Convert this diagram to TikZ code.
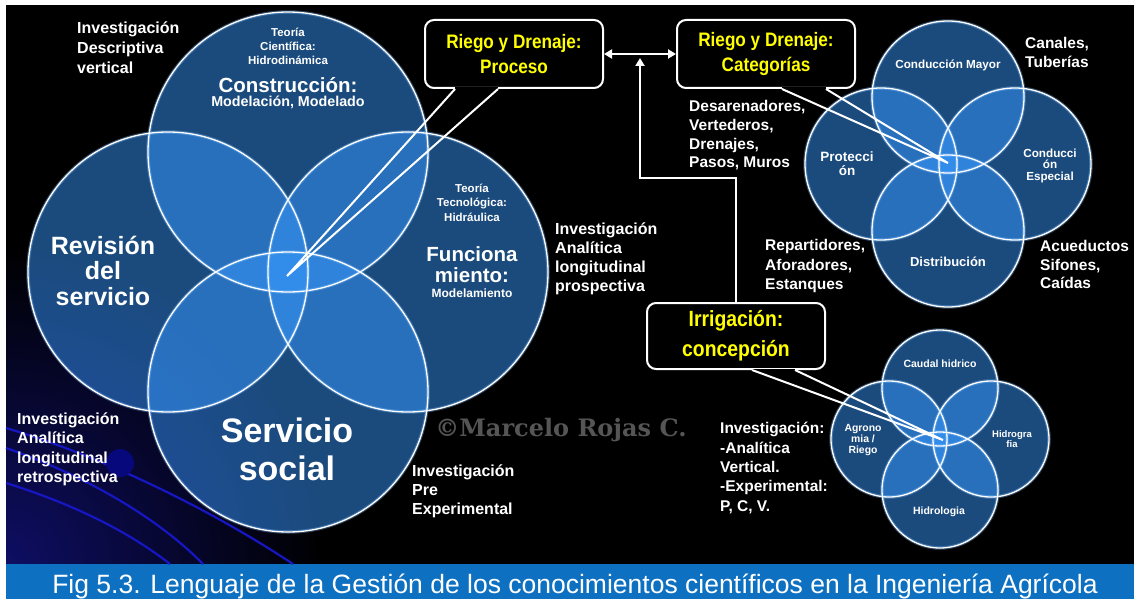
\documentclass[tikz,border=0pt]{standalone}
\usepackage{fontspec}
\setmainfont{Liberation Sans}
\newfontfamily\wmfont{DejaVu Serif}
\usetikzlibrary{arrows.meta}
\newcommand{\myfs}[2]{\fontsize{#1}{#2}\selectfont}
\newcommand{\nar}[1]{\scalebox{0.88}[1]{#1}}
\definecolor{vfill}{RGB}{54,150,250}
\definecolor{vglow}{RGB}{130,190,255}
\definecolor{capblue}{RGB}{14,112,192}
\definecolor{navy}{RGB}{14,14,100}
\definecolor{curveblue}{RGB}{22,22,195}
\definecolor{ballblue}{RGB}{8,8,125}
\definecolor{wmgray}{RGB}{85,85,85}
\definecolor{ylw}{RGB}{255,255,0}
\begin{document}
\begin{tikzpicture}[x=1pt,y=-1pt,
  vc/.style={fill=vfill, fill opacity=0.5},
  vglowline/.style={draw=vglow, draw opacity=0.35, line width=3.5pt},
  vline/.style={draw=white, line width=1.3pt},
  side/.style={text=white, inner sep=0pt, align=left, anchor=north west},
  inlbl/.style={text=white, inner sep=0pt, align=center},
  callout/.style={draw=white, line width=2pt, fill=black, rounded corners=9pt,
    text=ylw, font=\bfseries\myfs{19.5}{25}, align=center,
    minimum width=178pt, minimum height=68pt, inner sep=0pt},
  ptr/.style={draw=white, line width=2pt},
  conn/.style={draw=white, line width=2pt},
  deco/.style={draw=curveblue, line width=2.2pt}
]
\useasboundingbox (0,0) rectangle (1134,599);
% background
\fill[white] (0,0) rectangle (1134,599);
\fill[black] (6,5) rectangle (1134,564);
\begin{scope}
  \clip (6,5) rectangle (1134,564);
  \shade[inner color=navy, outer color=black] (6,564) circle (320);
\end{scope}
\fill[capblue] (6,564) rectangle (1134,599);
% decorative curves
\draw[deco] (6,428) .. controls (107,458) and (213,511) .. (293,564);
\draw[deco] (6,448) .. controls (70,470) and (150,510) .. (203,564);
\draw[deco] (6,483) .. controls (60,500) and (120,525) .. (170,564);
\fill[ballblue] (120,463) circle (14);

% circles
\foreach \cx/\cy/\r in {288/152/140, 168/272/140, 408/272/140, 288/392/140,
  948/97/76, 881/164/76, 1015/164/76, 948/231/76,
  940/388/58, 889/439/58, 991/439/58, 940/490/58}{
  \fill[vc] (\cx,\cy) circle (\r);
}
\foreach \cx/\cy/\r in {288/152/140, 168/272/140, 408/272/140, 288/392/140,
  948/97/76, 881/164/76, 1015/164/76, 948/231/76,
  940/388/58, 889/439/58, 991/439/58, 940/490/58}{
  \draw[vglowline] (\cx,\cy) circle (\r);
  \draw[vline] (\cx,\cy) circle (\r);
}

% watermark
\node[text=wmgray, inner sep=0pt, font=\wmfont\bfseries\myfs{24}{28}] (wm) at (561,430) {©Marcelo Rojas C.};

% left cluster labels
\node[inlbl, anchor=north, font=\bfseries\myfs{11.5}{14}] (tc) at (288,27.7) {Teoría\\Científica:\\Hidrodinámica};
\node[inlbl, font=\bfseries\myfs{20.5}{24}] (con) at (288,85) {Construcción:};
\node[inlbl, font=\bfseries\myfs{14.3}{17}] (mod) at (288,102) {Modelación, Modelado};
\node[inlbl, anchor=north, font=\bfseries\myfs{25}{25.5}] (rev) at (103,235.7) {Revisión\\del\\servicio};
\node[inlbl, anchor=north, font=\bfseries\myfs{11.5}{14.5}] (tt) at (472,183.7) {Teoría\\Tecnológica:\\Hidráulica};
\node[inlbl, anchor=north, font=\bfseries\myfs{20.5}{21}] (fun) at (472,246.4) {Funciona\\miento:};
\node[inlbl, font=\bfseries\myfs{12}{14}] (mdl) at (472,293) {Modelamiento};
\node[inlbl, anchor=north, font=\bfseries\myfs{34}{38}] (ser) at (287,417.4) {Servicio\\social};

% side texts
\node[side, font=\bfseries\myfs{16}{20}] (idv) at (77,22) {Investigación\\Descriptiva\\vertical};
\node[side, font=\bfseries\myfs{16}{19.3}] (iap) at (555,222.1) {Investigación\\Analítica\\longitudinal\\prospectiva};
\node[side, font=\bfseries\myfs{16}{19.5}] (iar) at (17,412.1) {Investigación\\Analítica\\longitudinal\\retrospectiva};
\node[side, font=\bfseries\myfs{16}{19}] (ipe) at (412,464.1) {Investigación\\Pre\\Experimental};
\node[side, font=\bfseries\myfs{15.5}{18.7}] (des) at (689,100.3) {Desarenadores,\\Vertederos,\\Drenajes,\\Pasos, Muros};
\node[side, font=\bfseries\myfs{15.5}{19.5}] (rep) at (765,239.3) {Repartidores,\\Aforadores,\\Estanques};
\node[side, font=\bfseries\myfs{15.5}{19}] (can) at (1025,37.3) {Canales,\\Tuberías};
\node[side, font=\bfseries\myfs{15.5}{18.5}] (acu) at (1040,240.3) {Acueductos\\Sifones,\\Caídas};
\node[side, font=\bfseries\myfs{15.5}{19.3}] (ibr) at (720,422.3) {Investigación:\\-Analítica\\Vertical.\\-Experimental:\\P, C, V.};

% right cluster labels
\node[inlbl, font=\bfseries\myfs{11.7}{13}] (cm) at (948,65) {Conducción Mayor};
\node[inlbl, anchor=north, font=\bfseries\myfs{13.5}{14}] (pro) at (847,152) {Protecci\\ón};
\node[inlbl, anchor=north, font=\bfseries\myfs{11.7}{11.5}] (ce) at (1050,148.7) {Conducci\\ón\\Especial};
\node[inlbl, font=\bfseries\myfs{13}{15}] (dis) at (948,262) {Distribución};

% bottom-right cluster labels
\node[inlbl, font=\bfseries\myfs{10.5}{12}] (cau) at (940,364) {Caudal hidrico};
\node[inlbl, anchor=north, font=\bfseries\myfs{10.4}{11}] (agr) at (863,424.2) {Agrono\\mia /\\Riego};
\node[inlbl, anchor=north, font=\bfseries\myfs{9.5}{10}] (hgr) at (1012,430.5) {Hidrogra\\fia};
\node[inlbl, font=\bfseries\myfs{10.5}{12}] (hlg) at (939,512) {Hidrologia};

% caption
\node[text=white, inner sep=0pt, anchor=base, font=\myfs{26.5}{30}] (cap) at (575,593)
  {Fig 5.3. Lenguaje de la Gestión de los conocimientos científicos en la Ingeniería Agrícola};

% callouts
\node[callout] (p1) at (514,54) {\nar{Riego y Drenaje:}\\\nar{Proceso}};
\node[callout] (p2) at (766,54) {\nar{Riego y Drenaje:}\\\nar{Categorías}};
\node[callout, font=\bfseries\myfs{22}{30}, minimum height=66pt] (p3) at (736,336) {\nar{Irrigación:}\\\nar{concepción}};

\coordinate (t1) at (287,276);
\coordinate (t2) at (948,163);
\coordinate (t3) at (943,440);
\coordinate (p1a) at ([xshift=-59pt]p1.south);
\coordinate (p1b) at ([xshift=-16pt]p1.south);
\coordinate (p2a) at ([xshift=16pt]p2.south);
\coordinate (p2b) at ([xshift=60pt]p2.south);
\coordinate (p3a) at ([xshift=16pt]p3.south);
\coordinate (p3b) at ([xshift=59pt]p3.south);
\draw[black, line width=3pt] (p1a) -- (p1b);
\draw[black, line width=3pt] (p2a) -- (p2b);
\draw[black, line width=3pt] (p3a) -- (p3b);
\draw[ptr] (p1a) -- (t1) -- (p1b);
\draw[ptr] (p2a) -- (t2) -- (p2b);
\draw[ptr] (p3a) -- (t3) -- (p3b);

% connectors
\coordinate (bend) at (640,178);
\coordinate (jt) at (640,58);
\draw[conn, {Triangle[width=9pt,length=8pt]}-{Triangle[width=9pt,length=8pt]}] (p1.east) -- (p2.west);
\draw[conn, -{Triangle[width=9pt,length=8pt]}] (p3.north) |- (bend) -- (jt);
\end{tikzpicture}
\end{document}
